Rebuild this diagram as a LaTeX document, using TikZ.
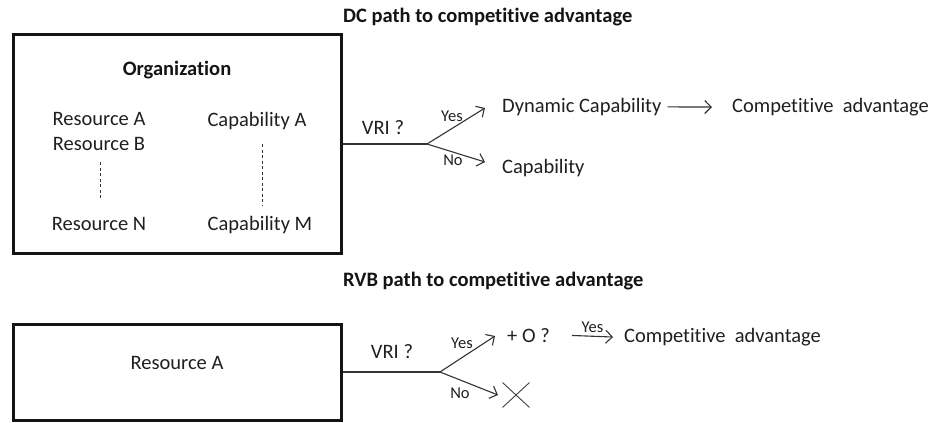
\documentclass[tikz,border=0pt]{standalone}
\usepackage{fontspec}
\setmainfont[Ligatures={NoCommon}]{Carlito}
\usetikzlibrary{arrows.meta,shapes.misc}
\begin{document}
\begin{tikzpicture}[x=1pt,y=-1pt,
  txt/.style={inner sep=0pt, yshift=-4pt, text=black!88, font=\fontsize{20.5}{24}\selectfont},
  btxt/.style={inner sep=0pt, yshift=-4pt, text=black!92, font=\fontsize{20.5}{24}\selectfont\bfseries},
  lbl/.style={inner sep=0pt, yshift=-3pt, text=black!88, font=\fontsize{16.5}{20}\selectfont},
  box/.style={draw=black!92, line width=3pt, inner sep=0pt},
  conn/.style={draw=black!80, line width=1.1pt},
  arr/.style={conn, -{Straight Barb[length=6.5pt,width=13pt,line width=1.1pt]}},
  dashln/.style={draw=black!80, line width=0.9pt, dash pattern=on 3pt off 2.5pt},
]
\useasboundingbox (0,0) rectangle (932,423);

% ---------- DC path ----------
\node[btxt, anchor=mid west] (t1) at (343,16) {DC path to competitive advantage};
\node[box, minimum width=328pt, minimum height=219pt] (org) at (177,143.5) {};
\node[btxt, anchor=mid] (orgl) at (177,69) {Organization};
\node[txt, anchor=mid] (ra) at (99,119) {Resource A};
\node[txt, anchor=mid] (rb) at (99,144) {Resource B};
\node[txt, anchor=mid] (rn) at (99,224) {Resource N};
\node[txt, anchor=mid] (ca) at (257,120) {Capability A};
\node[txt, anchor=mid] (cm) at (260,224) {Capability M};
\coordinate (d1a) at (100,162);
\coordinate (d1b) at (100,198);
\coordinate (d2a) at (262,144);
\coordinate (d2b) at (262,205);
\draw[dashln] (d1a) -- (d1b);
\draw[dashln] (d2a) -- (d2b);

\coordinate (br1) at (427,144);
\draw[conn] (org.east |- br1) -- (br1);
\node[txt, anchor=mid] (vri1) at (383,128) {VRI ?};
\coordinate (y1) at (485,108);
\coordinate (n1) at (485,162);
\draw[arr] (br1) -- (y1);
\draw[arr] (br1) -- (n1);
\node[lbl, anchor=mid] (yes1) at (452,116) {Yes};
\node[lbl, anchor=mid] (no1) at (453,160) {No};
\node[txt, anchor=mid west] (dyn) at (502,106) {Dynamic Capability};
\node[txt, anchor=mid west] (cap) at (502,167) {Capability};
\node[txt, anchor=mid west] (ca1) at (732,106) {Competitive\ \ advantage};
\draw[arr] ([xshift=6pt]dyn.east) -- ([xshift=-20pt]ca1.west);

% ---------- RVB path ----------
\node[btxt, anchor=mid west] (t2) at (343,280) {RVB path to competitive advantage};
\node[box, minimum width=328pt, minimum height=96pt] (res) at (177,372) {};
\node[txt, anchor=mid] (resa) at (177,363) {Resource A};

\coordinate (br2) at (440,372);
\draw[conn] (res.east) -- (br2);
\node[txt, anchor=mid] (vri2) at (392,352) {VRI ?};
\coordinate (y2) at (495,336);
\coordinate (n2) at (498,395);
\draw[arr] (br2) -- (y2);
\draw[arr] (br2) -- (n2);
\node[lbl, anchor=mid] (yes2) at (462,343) {Yes};
\node[lbl, anchor=mid] (no2) at (460,393) {No};
\node[txt, anchor=mid west] (po) at (507,336) {+ O ?};
\node[txt, anchor=mid west] (ca2) at (624,336) {Competitive\ \ advantage};
\draw[arr] ([xshift=22pt]po.east) -- ([xshift=-11pt]ca2.west) node[lbl, midway, above=6pt] (yes3) {Yes};
\node[cross out, draw=black!75, line width=0.9pt, minimum width=26pt, minimum height=24pt, inner sep=0pt] (xm) at (516,395) {};
\end{tikzpicture}
\end{document}
